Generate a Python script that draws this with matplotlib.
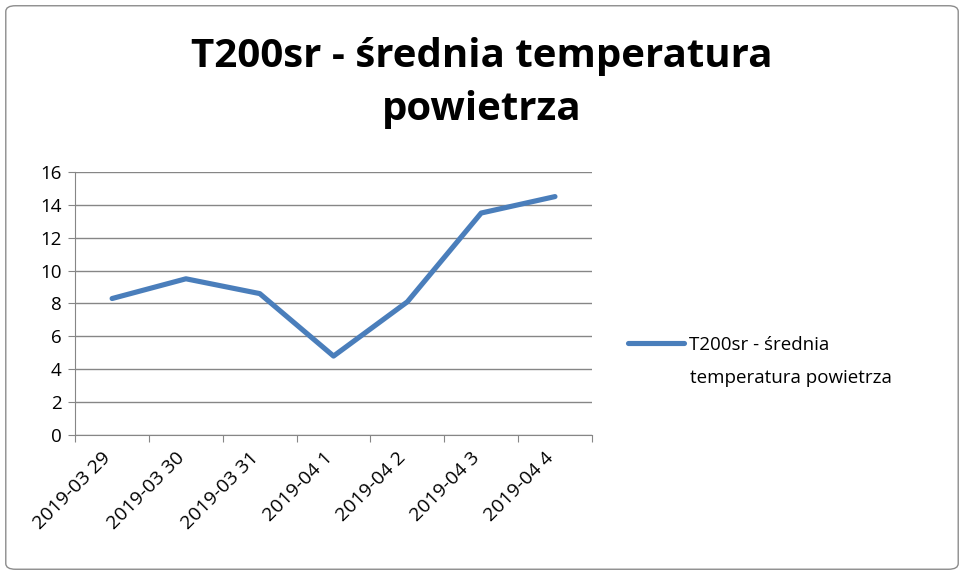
import matplotlib.pyplot as plt
from matplotlib.patches import FancyBboxPatch

dates = ["2019-03 29", "2019-03 30", "2019-03 31", "2019-04 1",
         "2019-04 2", "2019-04 3", "2019-04 4"]
temps = [8.3, 9.5, 8.6, 4.8, 8.1, 13.5, 14.5]
y_ticks = [0, 2, 4, 6, 8, 10, 12, 14, 16]
series_name = ["T200sr - średnia", "temperatura powietrza"]
title = "T200sr - średnia temperatura\npowietrza"

plt.rcParams["font.family"] = ["Open Sans", "DejaVu Sans"]

fig = plt.figure(figsize=(9.64, 5.75), dpi=100)
ax = fig.add_axes([0.078, 0.2435, 0.536, 0.4575])

x = list(range(len(dates)))
ax.plot(x, temps, color="#4a7ebb", linewidth=3.7, solid_capstyle="round",
        label=series_name[0])

ax.set_xlim(-0.5, len(dates) - 0.5)
ax.set_ylim(0, 16)
ax.set_yticks(y_ticks)
ax.set_yticklabels([str(v) for v in y_ticks], fontsize=13.5)
ax.set_xticks([i - 0.5 for i in range(len(dates) + 1)])
ax.set_xticklabels([])
# label anchors sit a little left of the category centre, like Excel
ax.set_xticks([i - 0.14 for i in x], minor=True)
ax.set_xticklabels(dates, minor=True, rotation=45, ha="right",
                   rotation_mode="anchor", fontsize=14)
ax.tick_params(axis="x", which="minor", length=0, pad=10)
ax.tick_params(axis="x", which="major", length=5, color="#868686")
ax.tick_params(axis="y", length=5, color="#868686", pad=5)

ax.grid(axis="y", color="#868686", linewidth=1)
ax.set_axisbelow(True)
for s in ["top", "right"]:
    ax.spines[s].set_visible(False)
for s in ["left", "bottom"]:
    ax.spines[s].set_color("#868686")

fig.text(0.5, 0.856, title, ha="center", va="center", fontsize=29,
         fontweight="bold", linespacing=1.45)

fig.legend(loc="center left", bbox_to_anchor=(0.651, 0.4), frameon=False,
           fontsize=13.5, handlelength=3.0, handletextpad=0.25,
           borderaxespad=0, borderpad=0)
fig.text(0.716, 0.342, series_name[1], ha="left", va="center", fontsize=13.5)

border = FancyBboxPatch((0.006, 0.01), 0.988, 0.98,
                        boxstyle="round,pad=0,rounding_size=0.01",
                        transform=fig.transFigure, fill=False,
                        edgecolor="#8c8c8c", linewidth=1)
fig.patches.append(border)

plt.savefig("out.png", dpi=100, facecolor="white")
plt.close(fig)
